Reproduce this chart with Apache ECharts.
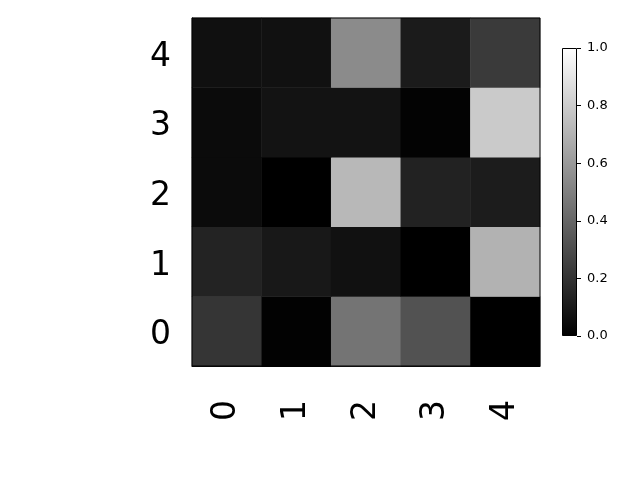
<!DOCTYPE html>
<html><head><meta charset="utf-8">
<script src="https://cdn.jsdelivr.net/npm/echarts@6/dist/echarts.min.js"></script>
<style>html,body{margin:0;padding:0;background:#fff}#c{width:640px;height:480px}</style>
</head><body><div id="c"></div>
<script>
const xCats = ['0','1','2','3','4'];
const yCats = ['0','1','2','3','4'];
// rows from y=0 (bottom) to y=4 (top)
const row0 = [0.208, 0.008, 0.455, 0.322, 0.000];
const row1 = [0.137, 0.094, 0.067, 0.000, 0.698];
const row2 = [0.043, 0.000, 0.722, 0.133, 0.110];
const row3 = [0.043, 0.075, 0.075, 0.012, 0.792];
const row4 = [0.063, 0.067, 0.545, 0.106, 0.227];
const colorbarTicks = [0, 0.2, 0.4, 0.6, 0.8, 1.0];

const rows = [row0, row1, row2, row3, row4];
const data = [];
rows.forEach((r, yi) => r.forEach((v, xi) => data.push([xi, yi, v])));

const chart = echarts.init(document.getElementById('c'), null, {renderer: 'canvas'});
const font = 'DejaVu Sans';
chart.setOption({
  animation: false,
  backgroundColor: '#fff',
  grid: [
    {left: 192, top: 18, width: 348, height: 348, show: true, borderColor: '#000', borderWidth: 1, backgroundColor: 'transparent', z: 5},
    {left: 562, top: 48, width: 15, height: 288}
  ],
  xAxis: [
    {type: 'category', gridIndex: 0, data: xCats, axisLine: {show: true, lineStyle: {color: '#000', width: 1}},
     axisTick: {alignWithLabel: true, length: 5, lineStyle: {color: '#000'}},
     axisLabel: {rotate: 90, fontSize: 33, color: '#000', fontFamily: font, margin: 34}, splitLine: {show: false}},
    {type: 'category', gridIndex: 1, data: ['c'], show: false}
  ],
  yAxis: [
    {type: 'category', gridIndex: 0, data: yCats, axisLine: {show: true, lineStyle: {color: '#000', width: 1}},
     axisTick: {alignWithLabel: true, length: 5, lineStyle: {color: '#000'}},
     axisLabel: {color: '#000', margin: 21, formatter: v => '{a|' + v + '}',
       rich: {a: {fontSize: 33, color: '#000', fontFamily: font, padding: [9, 0, 0, 0]}}},
     splitLine: {show: false}},
    {type: 'value', gridIndex: 1, min: 0, max: 1, interval: 0.2, position: 'right',
     axisLine: {show: false}, axisTick: {show: true, length: 4, lineStyle: {color: '#000'}},
     axisLabel: {fontSize: 13, color: '#000', fontFamily: font, margin: 10, formatter: v => v.toFixed(1)},
     splitLine: {show: false}}
  ],
  visualMap: {
    show: false, min: 0, max: 1, seriesIndex: 0, dimension: 2,
    inRange: {color: ['#000000', '#ffffff']}
  },
  series: [
    {type: 'heatmap', xAxisIndex: 0, yAxisIndex: 0, data: data, itemStyle: {borderWidth: 0}},
    {type: 'bar', xAxisIndex: 1, yAxisIndex: 1, data: [1], barWidth: '100%',
     itemStyle: {borderColor: '#000', borderWidth: 1,
       color: new echarts.graphic.LinearGradient(0, 0, 0, 1, [{offset: 0, color: '#ffffff'}, {offset: 1, color: '#000000'}])}}
  ]
});
</script></body></html>
